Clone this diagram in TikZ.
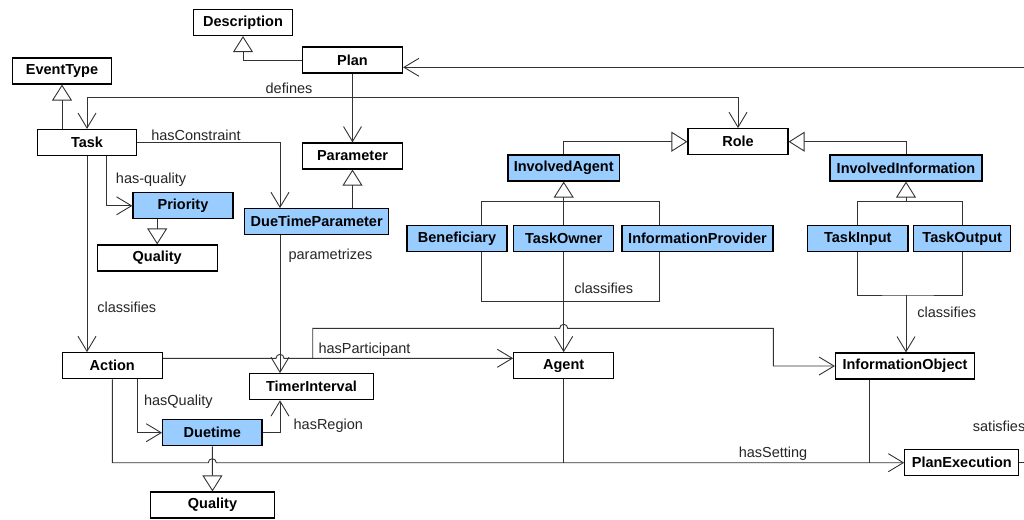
\documentclass[tikz,border=0pt]{standalone}
\usepackage{fontspec}
\setmainfont{Liberation Sans}
\usetikzlibrary{arrows.meta}
\definecolor{umlblue}{RGB}{153,204,255}

\begin{document}
\begin{tikzpicture}[x=1pt, y=-1pt,
  cls/.style={draw, line width=1.2pt, fill=white, minimum height=26pt, inner sep=0pt, font=\fontsize{14.5}{17}\selectfont\bfseries},
  cblue/.style={cls, fill=umlblue},
  conn/.style={line width=0.9pt, draw=black!80},
  assoc/.style={conn, -{Straight Barb[length=15pt, width=18pt, line width=0.9pt]}},
  gen/.style={conn, -{Triangle[length=16pt, width=20pt, fill=white, line width=0.9pt]}},
  lbl/.style={font=\fontsize{14.5}{17}\selectfont, text=black!85, inner sep=0pt}]
\useasboundingbox (0,0) rectangle (1024,519);
\clip (0,0) rectangle (1024,519);
\fill[white] (0,0) rectangle (1024,519);
\node[cls, minimum width=99pt] (desc) at (243,22.5) {Description};
\node[cls, minimum width=100pt] (plan) at (352.5,60) {Plan};
\node[cls, minimum width=99pt] (evtype) at (62,71) {EventType};
\node[cls, minimum width=99pt] (task) at (87,142.5) {Task};
\node[cls, minimum width=100pt] (param) at (352.5,156) {Parameter};
\node[cls, minimum width=100pt] (role) at (738,141.7) {Role};
\node[cblue, minimum width=111.5pt] (invagent) at (563.7,168) {InvolvedAgent};
\node[cblue, minimum width=152pt] (invinfo) at (906,168) {InvolvedInformation};
\node[cblue, minimum width=100pt] (priority) at (183,205.8) {Priority};
\node[cblue, minimum width=144pt] (duetimeparam) at (316.7,221.7) {DueTimeParameter};
\node[cls, minimum width=120pt] (qualityA) at (157.2,258) {Quality};
\node[cblue, minimum width=100pt] (benef) at (457,238.7) {Beneficiary};
\node[cblue, minimum width=100pt] (taskowner) at (563.7,238.7) {TaskOwner};
\node[cblue, minimum width=151pt] (infoprov) at (697.5,238.7) {InformationProvider};
\node[cblue, minimum width=100.4pt] (taskinput) at (857.8,238.7) {TaskInput};
\node[cblue, minimum width=97pt] (taskoutput) at (962.2,238.7) {TaskOutput};
\node[cls, minimum width=100pt] (action) at (112.3,365.7) {Action};
\node[cls, minimum width=124pt] (timer) at (311.5,386.7) {TimerInterval};
\node[cls, minimum width=100pt] (agent) at (563.7,365.8) {Agent};
\node[cls, minimum width=139pt] (infoobj) at (905,366) {InformationObject};
\node[cblue, minimum width=99.3pt] (duetime) at (212.3,432.7) {Duetime};
\node[cls, minimum width=124.6pt] (qualityB) at (212.5,505) {Quality};
\node[cls, minimum width=114pt] (planexec) at (961.8,462.7) {PlanExecution};
% Labels
\node[lbl] (ldefines) at (289,88.3) {defines};
\node[lbl] (lconstraint) at (196,135) {hasConstraint};
\node[lbl] (lhasquality) at (151,179.3) {has-quality};
\node[lbl] (lclassA) at (126.7,307.7) {classifies};
\node[lbl] (lparam) at (330.5,256) {parametrizes};
\node[lbl] (lpart) at (364.5,349.3) {hasParticipant};
\node[lbl] (lquality) at (178.3,401.7) {hasQuality};
\node[lbl] (lregion) at (328.3,426) {hasRegion};
\node[lbl] (lsetting) at (773,454) {hasSetting};
\node[lbl] (lclassB) at (603.8,288.3) {classifies};
\node[lbl] (lclassC) at (946.7,312.3) {classifies};
\node[lbl, anchor=west] (lsatisfies) at (972.7,426.7) {satisfies};
% Generalizations
\draw[gen] (plan.west) -| (desc.south);
\draw[gen] (task.north -| evtype.south) -- (evtype.south);
\draw[gen] (priority.south -| qualityA.north) -- (qualityA.north);
\draw[gen] (duetimeparam.north -| param.south) -- (param.south);
\draw[gen] (invagent.north) |- (role.west);
\draw[gen] (invinfo.north) |- (role.east);
\coordinate (gb1) at (481.8,201.7);
\coordinate (gb2) at (659.3,201.7);
\draw[conn] (gb1 |- benef.north) -- (gb1) -- (gb2) -- (gb2 |- infoprov.north);
\draw[gen] (taskowner.north) -- (invagent.south);
\coordinate (gi) at (906,201.7);
\draw[conn] (taskinput.north) |- (gi) -| (taskoutput.north);
\draw[gen] (gi) -- (invinfo.south);
\draw[gen] (duetime.south) -- (qualityB.north);
% Arrows
\coordinate (pd) at (352.5,97.3);
\draw[conn] (plan.south) -- (pd);
\draw[assoc] (pd) -| (task.north);
\draw[assoc] (pd) -| (role.north);
\draw[assoc] (pd) -- (param.north);
\draw[assoc] (task.east) -| ([xshift=-36.7pt]duetimeparam.north);
\draw[assoc] ([xshift=19.7pt]task.south) |- (priority.west);
\draw[assoc] (task.south) -- (task.south |- action.north);
\draw[assoc] ([xshift=-36.7pt]duetimeparam.south) -- ([xshift=-31.5pt]timer.north);
\coordinate (cb1) at (481.8,301.7);
\coordinate (cb2) at (659.3,301.7);
\draw[conn] (cb1 |- benef.south) -- (cb1) -- (cb2) -- (cb2 |- infoprov.south);
\draw[assoc] (taskowner.south) -- (taskowner.south |- agent.north);
\coordinate (ci) at (906,295);
\draw[conn] (taskinput.south) |- (ci) -| (taskoutput.south);
\draw[assoc] (ci) -- (ci |- infoobj.north);
% hasParticipant
\coordinate (hp) at (312.7,358.3);
\draw[assoc] (action.east |- hp) -- (276,358.3) arc[start angle=180, end angle=0, radius=4pt] -- (hp) -- (hp -| agent.west);
\draw[assoc] (hp) -- (312.7,328.3) -- (559.7,328.3) arc[start angle=180, end angle=0, radius=4pt] -- (773.3,328.3) |- (infoobj.west);
\draw[assoc] ([xshift=25.4pt]action.south) |- (duetime.west);
\draw[assoc] (duetime.east) -| ([xshift=-31.5pt]timer.south);
% hasSetting
\draw[assoc] (action.south) |- (208.3,462.7) arc[start angle=180, end angle=0, radius=4pt] -- (planexec.west);
\draw[conn] (agent.south) -- (agent.south |- planexec.west);
\draw[conn] ([xshift=-35.7pt]infoobj.south) -- ([xshift=-35.7pt]infoobj.south |- planexec.west);
% satisfies
\draw[assoc] (planexec.east) -- ++(30,0) |- ([yshift=-7.3pt]plan.east);
\end{tikzpicture}
\end{document}
